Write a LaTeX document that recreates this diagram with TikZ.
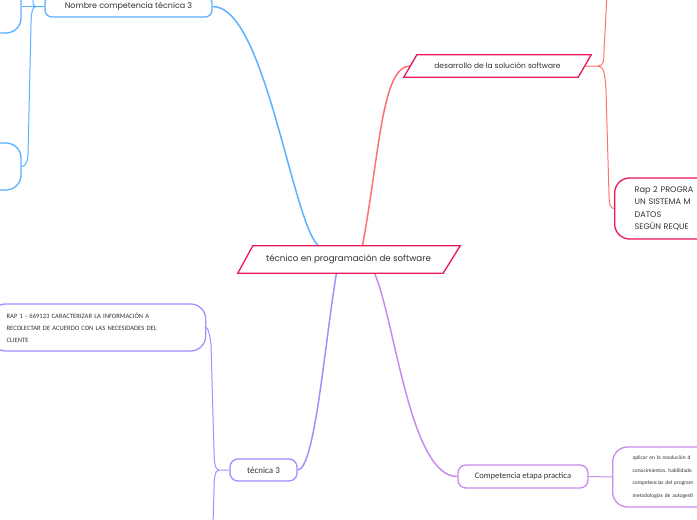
\documentclass[tikz,border=0pt]{standalone}
\usepackage{fontspec}
\setmainfont{Poppins}
\newfontfamily\hand{Carlito}
\definecolor{redb}{HTML}{E8175D}
\definecolor{redl}{HTML}{FF7272}
\definecolor{blu}{HTML}{5CB2FF}
\definecolor{lav}{HTML}{9D90FF}
\definecolor{vio}{HTML}{C88BEE}
\definecolor{txt}{HTML}{333333}
\begin{document}
\begin{tikzpicture}[x=1pt,y=-1pt,
  parabox/.style={rectangle, inner sep=0pt, text=txt},
  paraline/.style={draw=redb, line width=1.3pt, fill=white, line join=miter},
  rbox/.style={rectangle, rounded corners=#1, line width=1.3pt, fill=white, text=txt},
  mainc/.style={line width=1.5pt},
  subc/.style={line width=1pt},
]
\useasboundingbox[fill=white] (0,0) rectangle (697,520);

% free ends
\coordinate (rtop) at (607,-5);
\coordinate (btop) at (33,-5);
\coordinate (pbot) at (213,525);

% central and first-level nodes (text holders)
\node[parabox, minimum width=206pt, minimum height=27pt] (c) at (348.5,259.5) {};
\node[parabox, minimum width=174pt, minimum height=22pt] (d) at (497.5,66) {};
\node[rbox=7pt, draw=blu, minimum width=167pt, minimum height=21pt, font=\fontsize{8}{9}\selectfont]
  (nct) at (128.5,6.5) {Nombre competencia técnica 3};
\node[rbox=8pt, draw=lav, minimum width=67pt, minimum height=22pt, font=\hand\fontsize{9}{10}\selectfont]
  (t3) at (263.5,470) {técnica 3};
\node[rbox=8pt, draw=vio, minimum width=130pt, minimum height=23pt, font=\hand\fontsize{8.5}{10}\selectfont]
  (cp) at (523,476.5) {Competencia etapa practica};

% second-level nodes
\node[rbox=15pt, draw=redb, anchor=west, inner xsep=20pt, text width=130pt, minimum height=61pt,
  align=left, font=\fontsize{8.1}{12.3}\selectfont]
  (r2) at (614,208.5) {Rap 2 PROGRA\\UN SISTEMA M\\DATOS\\SEGÚN REQUE};
\node[rbox=15pt, draw=vio, anchor=west, inner xsep=20pt, text width=130pt, minimum height=60pt,
  align=left, font=\hand\fontsize{5.5}{12.5}\selectfont]
  (ap) at (612,477) {aplicar en la resolución d\\conocimientos, habilidade\\competencias del program\\metodologías de autogesti};
\node[rbox=15pt, draw=lav, anchor=west, inner xsep=16pt, text width=183pt, minimum height=47pt,
  align=left, font=\hand\fontsize{6.6}{12}\selectfont]
  (rap1) at (-10,327.5) {RAP 1 - 669123 CARACTERIZAR LA INFORMACIÓN A\\RECOLECTAR DE ACUERDO CON LAS NECESIDADES DEL\\CLIENTE};
\node[rbox=15pt, draw=blu, minimum width=121pt, minimum height=53pt] (ul) at (-39.5,6.5) {};
\node[rbox=15pt, draw=blu, minimum width=121pt, minimum height=47pt] (ll) at (-39.5,166.5) {};

% main connectors
\draw[mainc, blu] (nct.east) .. controls (265,6) and (292,222) .. ([xshift=-30pt]c.north);
\draw[mainc, redl] ([xshift=14pt]c.north) .. controls (380,150) and (382,66) .. (d.west);
\draw[mainc, lav] ([xshift=-12pt]c.south) .. controls (325,340) and (315,470) .. (t3.east);
\draw[mainc, vio] ([xshift=26pt]c.south) .. controls (395,320) and (410,477) .. (cp.west);

% red children
\draw[subc, redl] (d.east) -- (598,66) .. controls (604,66) and (604,60) .. (604,50) -- (rtop);
\draw[subc, redl] (598,66) .. controls (604,66) and (605,75) .. (606,90) -- (609,195)
  .. controls (609,205) and (611,208.5) .. (r2.west);

% violet child
\draw[subc, vio] (cp.east) -- (ap.west);

% lavender children
\draw[subc, lav] (t3.west) -- (219,470) .. controls (215,470) and (214,462) .. (214,450)
  -- (211,345) .. controls (210,335) and (208,327.5) .. (rap1.east);
\draw[subc, lav] (219,470) .. controls (215,470) and (214,478) .. (214,490) -- (pbot);

% blue children
\draw[subc, blu] (nct.west) -- (36,6.5) .. controls (33,6.5) and (33,3) .. (33,0) -- (btop);
\draw[subc, blu] (36,6.5) .. controls (30,6.5) and (26,6.5) .. (ul.east);
\draw[subc, blu] (36,6.5) .. controls (32,6.5) and (31,15) .. (31,25) -- (28,155)
  .. controls (28,162) and (25,166.5) .. (ll.east);

% parallelogram outlines and their texts
\draw[paraline] ([xshift=-7.5pt]c.south west) -- ([xshift=7.5pt]c.north west)
  -- ([xshift=8.5pt]c.north east) -- ([xshift=-8.5pt]c.south east) -- cycle;
\node[text=txt, font=\fontsize{8.7}{10}\selectfont] at (c) {técnico en programación de software};
\draw[paraline] ([xshift=-6.5pt]d.south west) -- ([xshift=6.5pt]d.north west)
  -- ([xshift=6.5pt]d.north east) -- ([xshift=-6.5pt]d.south east) -- cycle;
\node[text=txt, font=\fontsize{7.5}{9}\selectfont] at (d) {desarrollo de la solución software};
\end{tikzpicture}
\end{document}
